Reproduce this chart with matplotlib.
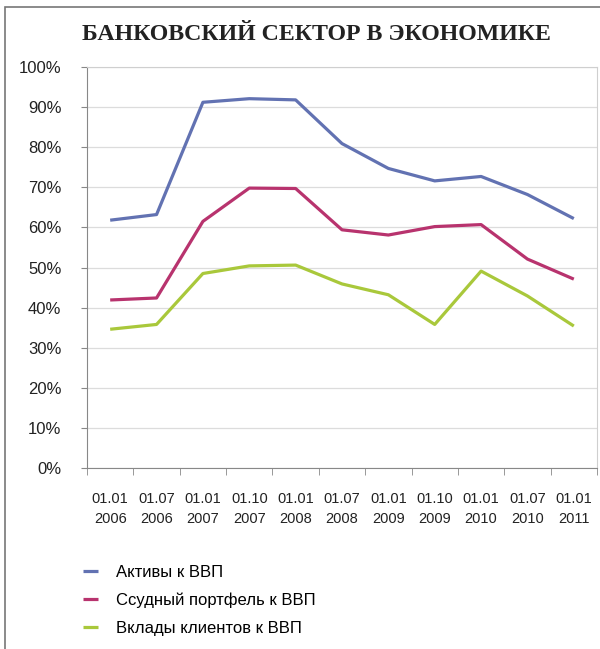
import numpy as np
import matplotlib.pyplot as plt
from matplotlib.patches import Rectangle

dates = ['01.01\n2006', '01.07\n2006', '01.01\n2007', '01.10\n2007', '01.01\n2008', '01.07\n2008',
         '01.01\n2009', '01.10\n2009', '01.01\n2010', '01.07\n2010', '01.01\n2011']
assets = [61.8, 63.2, 91.2, 92.1, 91.8, 80.9, 74.7, 71.6, 72.7, 68.2, 62.2]
loans = [41.9, 42.4, 61.5, 69.8, 69.7, 59.4, 58.1, 60.2, 60.7, 52.1, 47.1]
deposits = [34.6, 35.8, 48.5, 50.4, 50.6, 45.9, 43.2, 35.8, 49.1, 42.9, 35.4]
series_names = ['Активы к ВВП', 'Ссудный портфель к ВВП', 'Вклады клиентов к ВВП']
colors = ['#6272B2', '#B8336E', '#A9C83B']

plt.rcParams['font.family'] = ['Liberation Sans', 'DejaVu Sans']

fig = plt.figure(figsize=(6, 6.49), dpi=100)
W, H = 600, 649

# outer frame (cut on right and bottom)
fig.patches.append(Rectangle((5 / W, -0.1), 1.2, 1 - 7 / H + 0.1, transform=fig.transFigure,
                             fill=False, edgecolor='#777777', linewidth=1.2))

fig.text(316 / W, 1 - 34 / H, 'БАНКОВСКИЙ СЕКТОР В ЭКОНОМИКЕ', ha='center', va='center',
         family=['Liberation Serif', 'DejaVu Serif'], fontweight='bold', fontsize=17.2, color='#222222')

ax = fig.add_axes([87 / W, 1 - 468 / H, (597 - 87) / W, (468 - 67) / H])
x = np.arange(len(dates))
lines = []
for vals, c in zip([assets, loans, deposits], colors):
    l, = ax.plot(x, vals, color=c, linewidth=2.3, solid_capstyle='butt')
    lines.append(l)

ax.set_xlim(-0.5, len(dates) - 0.5)
ax.set_ylim(0, 100)
ax.set_yticks(np.arange(0, 101, 10))
ax.set_yticklabels([f'{v}%' for v in range(0, 101, 10)], fontsize=12, color='#222222')
ax.set_xticks(x)
ax.set_xticklabels(dates, fontsize=10.5, color='#222222', linespacing=1.5)
ax.tick_params(axis='x', length=0, pad=17.5)
ax.set_xticks(np.arange(-0.5, len(dates), 1), minor=True)
ax.tick_params(axis='x', which='minor', length=5, color='#888888', direction='out')
ax.tick_params(axis='y', length=4, color='#888888', pad=14.5)
ax.grid(axis='y', color='#DCDCDC', linewidth=0.9)
ax.set_axisbelow(True)
for s in ['top', 'right']:
    ax.spines[s].set_color('#CFCFCF')
for s in ['left', 'bottom']:
    ax.spines[s].set_color('#888888')

fig.legend(lines, series_names, loc='upper left', bbox_to_anchor=(68 / W, 1 - 550 / H),
           frameon=False, fontsize=12, handlelength=0.9, handletextpad=1.1, labelspacing=0.75)

fig.savefig('out.png', dpi=100)
